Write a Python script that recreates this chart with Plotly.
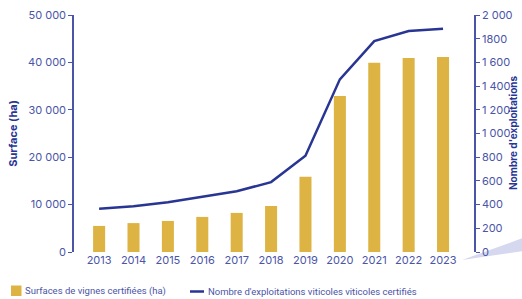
import plotly.graph_objects as go

years = ["2013", "2014", "2015", "2016", "2017", "2018", "2019", "2020", "2021", "2022", "2023"]
surfaces = [5500, 6100, 6550, 7400, 8250, 9700, 15850, 32900, 39950, 40950, 41150]
exploitations = [365, 386, 420, 465, 512, 590, 812, 1457, 1780, 1865, 1884]

left_ticks = [0, 10000, 20000, 30000, 40000, 50000]
left_text = ["0", "10 000", "20 000", "30 000", "40 000", "50 000"]
right_ticks = [0, 200, 400, 600, 800, 1000, 1200, 1400, 1600, 1800, 2000]
right_text = ["0", "200", "400", "600", "800", "1 000", "1 200", "1 400", "1 600", "1800", "2 000"]

name_bar = "Surfaces de vignes certifiées (ha)"
name_line = "Nombre d'exploitations viticoles viticoles certifiés"

idx = list(range(len(years)))
gold = "#DDB443"
navy = "#283593"
axis_col = "#4A55A8"
font_fam = "Inter, Roboto, sans-serif"

L, R, T, B, W, H = 74, 48, 15, 47, 522, 299
PW, PH = W - L - R, H - T - B


def px(x):
    return (x - L) / PW


def py(y):
    return (H - B - y) / PH


fig = go.Figure()
fig.add_trace(go.Bar(x=idx, y=surfaces, name=name_bar, showlegend=False,
                     marker=dict(color=gold, line=dict(width=0)), width=0.35, yaxis="y"))
fig.add_trace(go.Scatter(x=idx, y=exploitations, name=name_line, showlegend=False,
                         mode="lines", line=dict(color=navy, width=2.5), yaxis="y2"))

fig.update_layout(
    width=W, height=H,
    margin=dict(l=L, r=R, t=T, b=B, autoexpand=False),
    paper_bgcolor="white", plot_bgcolor="white",
    font=dict(family=font_fam, color=axis_col, size=11),
    showlegend=False,
    xaxis=dict(tickmode="array", tickvals=idx, ticktext=years, range=[-0.73, 10.9],
               showline=False, showgrid=False, zeroline=False, ticks="",
               tickfont=dict(size=11, color=axis_col)),
    yaxis=dict(range=[0, 50000], tickvals=left_ticks, ticktext=left_text,
               showline=True, linecolor=axis_col, linewidth=1.5, ticks="outside", ticklen=4,
               tickcolor=axis_col, showgrid=False, zeroline=False,
               title=dict(text="<b>Surface (ha)</b>", font=dict(size=11, color=navy), standoff=8),
               tickfont=dict(size=11, color=axis_col)),
    yaxis2=dict(range=[0, 2000], tickvals=right_ticks, ticktext=right_text, overlaying="y", side="right",
                showline=True, linecolor=axis_col, linewidth=1.5, ticks="outside", ticklen=4,
                tickcolor=axis_col, showgrid=False, zeroline=False,
                tickfont=dict(size=11, color=axis_col)),
)

# right axis title
fig.add_annotation(text="<b>Nombre d'exploitations</b>", xref="paper", yref="paper",
                   x=px(513), y=py(133), textangle=-90, showarrow=False,
                   font=dict(size=10, color=navy, family=font_fam), xanchor="center", yanchor="middle")

# decorative wedge
fig.add_shape(type="path", xref="paper", yref="paper",
              path=f"M {px(462)} {py(260)} L {px(523)} {py(238)} L {px(523)} {py(251)} Z",
              fillcolor="#D5D8EE", line=dict(width=0), layer="below")

# legend (drawn manually to keep it on one row)
fig.add_shape(type="rect", xref="paper", yref="paper",
              x0=px(11), x1=px(21.5), y0=py(296), y1=py(285.5),
              fillcolor=gold, line=dict(width=0))
fig.add_annotation(text=name_bar, xref="paper", yref="paper", x=px(23), y=py(291),
                   xanchor="left", yanchor="middle", showarrow=False,
                   font=dict(size=9.5, color=axis_col, family="Roboto, sans-serif"))
fig.add_shape(type="line", xref="paper", yref="paper",
              x0=px(190), x1=px(204), y0=py(291.5), y1=py(291.5),
              line=dict(color=navy, width=2.5))
fig.add_annotation(text=name_line, xref="paper", yref="paper", x=px(206), y=py(291),
                   xanchor="left", yanchor="middle", showarrow=False,
                   font=dict(size=9.5, color=axis_col, family="Roboto, sans-serif"))

fig.write_html("out.html", config={"displayModeBar": False},
               post_script="document.body.style.margin='0';document.body.style.padding='0';document.body.style.overflow='hidden';")
